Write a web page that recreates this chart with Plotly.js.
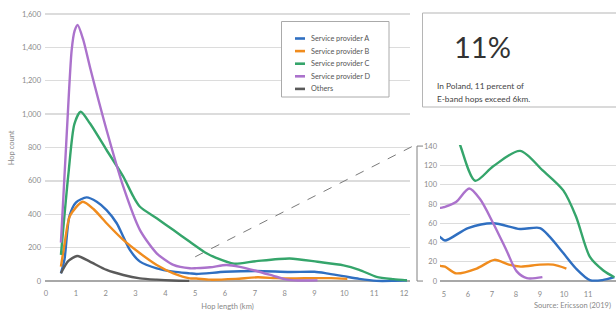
<!DOCTYPE html>
<html><head><meta charset="utf-8">
<script src="https://cdn.plot.ly/plotly-3.0.1.min.js"></script>
<style>html,body{margin:0;padding:0;background:#fff}#chart{width:616px;height:314px}</style>
</head><body><div id="chart"></div>
<script>
// ---- data ----
const seriesNames = ['Service provider A','Service provider B','Service provider C','Service provider D','Others'];
const xA = [0.5,0.62,0.78,1.0,1.36,1.7,2.03,2.37,2.59,2.81,3.15,3.71,4.27,4.82,5.04,6.0,7.05,8.17,9.0,9.4,9.97,10.5,11.08,11.6,12.1];
const yA = [46,130,385,470,501,475,425,346,265,186,116,76,56,46,42,55,60,54,55,46,29,13,1,1,4];
const xB = [0.5,0.62,0.8,1.23,1.6,2.03,2.59,3.15,3.71,4.27,4.82,5.04,5.5,6.36,7.1,7.7,8.2,9.0,9.55,10.1];
const yB = [86,220,390,475,430,346,246,166,96,46,16,15,8,13,22,17,15,17,17,13];
const xC = [0.5,0.75,0.95,1.16,1.47,2.03,2.59,2.93,3.15,3.71,4.27,4.82,5.38,5.7,6.3,7.05,8.17,9.1,9.97,10.5,11.08,11.64,12.1];
const yC = [156,640,940,1014,945,785,625,505,445,376,305,235,166,139,104,119,135,115,94,67,25,11,4];
const xD = [0.5,0.7,0.86,0.96,1.06,1.25,1.47,2.03,2.59,3.15,3.71,4.27,4.82,5.04,5.5,6.05,6.5,7.05,7.6,8.03,8.45,9.1];
const yD = [230,900,1384,1500,1534,1444,1284,905,565,305,166,96,76,77,82,96,85,60,32,10,3,4];
const xO = [0.5,0.75,1.05,1.47,2.03,2.59,3.15,3.71,4.27,4.8];
const yO = [46,120,150,116,66,36,16,8,3,1];
const xTicks = [0,1,2,3,4,5,6,7,8,9,10,11,12];
const yTicksMain = [0,200,400,600,800,1000,1200,1400,1600];
const yTicksInset = [0,20,40,60,80,100,120,140];
const xTicksInset = [5,6,7,8,9,10,11,12];
const calloutValue = '11%';
const calloutText = ['In Poland, 11 percent of','E-band hops exceed 6km.'];
const sourceText = 'Source: Ericsson (2019)';

// ---- styling / layout ----
const W = 616, H = 314;
const colors = ['#2f6fc1','#f08c1e','#35a56b','#ab72cc','#5a5a5a'];
const xs = [xA,xB,xC,xD,xO], ys = [yA,yB,yC,yD,yO];
const FONT = 'Lato, "Noto Sans", sans-serif';

const mainX = {range:[-0.034,12.2], domain:[45/W,410/W]};
const mainY = {range:[-15,1610], domain:[1-283.5/H,1-12.3/H]};
const insX = {range:[4.833,12.167], domain:[440/W,1]};
const insY = {range:[-4,141], domain:[1-284.9/H,1-145.1/H]};

function toPaperX(ax,v){return ax.domain[0]+(v-ax.range[0])/(ax.range[1]-ax.range[0])*(ax.domain[1]-ax.domain[0]);}
function toPaperY(ax,v){return ax.domain[0]+(v-ax.range[0])/(ax.range[1]-ax.range[0])*(ax.domain[1]-ax.domain[0]);}

const traces = [];
for (let i=0;i<5;i++){
  traces.push({x:xs[i],y:ys[i],type:'scatter',mode:'lines',name:seriesNames[i],
    line:{color:colors[i],width:2.4,shape:'spline',smoothing:0.7},xaxis:'x',yaxis:'y',showlegend:false,hoverinfo:'skip'});
}
for (let i=0;i<4;i++){
  traces.push({x:xs[i],y:ys[i],type:'scatter',mode:'lines',name:seriesNames[i],
    line:{color:colors[i],width:2.4,shape:'spline',smoothing:0.8},xaxis:'x2',yaxis:'y2',showlegend:false,hoverinfo:'skip'});
}

const tickFont = {family:FONT,size:7.5,color:'#8a8a8a'};
const shapes = [];
const annotations = [];

// bracket of inset
const bx = 417/W, btop = toPaperY(insY,140), bbot = toPaperY(insY,0);
shapes.push({type:'line',xref:'paper',yref:'paper',x0:bx,x1:bx,y0:bbot,y1:btop,line:{color:'#808080',width:1}});
shapes.push({type:'line',xref:'paper',yref:'paper',x0:bx,x1:423/W,y0:btop,y1:btop,line:{color:'#808080',width:1}});
shapes.push({type:'line',xref:'paper',yref:'paper',x0:bx,x1:423/W,y0:bbot,y1:bbot,line:{color:'#808080',width:1}});
// dashed zoom connector
shapes.push({type:'line',xref:'paper',yref:'paper',x0:toPaperX(mainX,5),y0:toPaperY(mainY,145),x1:413/W,y1:btop,
  line:{color:'#7a7a7a',width:1,dash:'dash'}});
// callout box
shapes.push({type:'rect',xref:'paper',yref:'paper',x0:422.5/W,x1:640/W,y0:1-107/H,y1:1-13/H,line:{color:'#b5b5b5',width:1},fillcolor:'rgba(255,255,255,0)'});
annotations.push({xref:'paper',yref:'paper',x:452/W,y:1-47/H,xanchor:'left',yanchor:'middle',showarrow:false,
  text:calloutValue,font:{family:FONT,size:29,color:'#333'}});
calloutText.forEach((t,k)=>annotations.push({xref:'paper',yref:'paper',x:435/W,y:1-(86+12.5*k)/H,xanchor:'left',yanchor:'middle',showarrow:false,
  text:t,font:{family:FONT,size:8.3,color:'#444'}}));
// custom legend
shapes.push({type:'rect',xref:'paper',yref:'paper',x0:281.5/W,x1:389/W,y0:1-97/H,y1:1-21.5/H,line:{color:'#aaaaaa',width:1},fillcolor:'#fff',layer:'above'});
seriesNames.forEach((n,k)=>{
  const yy = 1-(38.5+12.6*k)/H;
  shapes.push({type:'line',xref:'paper',yref:'paper',x0:295/W,x1:305/W,y0:yy,y1:yy,line:{color:colors[k],width:2.6},layer:'above'});
  annotations.push({xref:'paper',yref:'paper',x:309/W,y:yy,xanchor:'left',yanchor:'middle',showarrow:false,text:n,
    font:{family:FONT,size:7.3,color:'#555'}});
});
// source
annotations.push({xref:'paper',yref:'paper',x:532/W,y:1-305/H,xanchor:'left',yanchor:'middle',showarrow:false,text:sourceText,
  font:{family:FONT,size:7.5,color:'#888'}});

const layout = {
  width:W,height:H,margin:{l:0,r:0,t:0,b:0},paper_bgcolor:'#fff',plot_bgcolor:'#fff',showlegend:false,
  xaxis:{range:mainX.range,domain:mainX.domain,anchor:'y',tickvals:xTicks,showgrid:false,zeroline:false,ticks:'',
    tickfont:tickFont,ticklabelstandoff:4,title:{text:'Hop length (km)',font:{family:FONT,size:7.5,color:'#888'},standoff:6},automargin:false},
  yaxis:{range:mainY.range,domain:mainY.domain,anchor:'x',tickvals:yTicksMain,tickformat:',d',gridcolor:'#dcdcdc',gridwidth:1.3,
    zeroline:true,zerolinecolor:'#a8a8a8',zerolinewidth:1.5,ticks:'',tickfont:tickFont,ticklabelstandoff:3,
    title:{text:'Hop count',font:{family:FONT,size:7.5,color:'#888'},standoff:6},automargin:false},
  xaxis2:{range:insX.range,domain:insX.domain,anchor:'y2',tickvals:xTicksInset,showgrid:false,zeroline:false,ticks:'',
    tickfont:tickFont,ticklabelstandoff:4,automargin:false},
  yaxis2:{range:insY.range,domain:insY.domain,anchor:'x2',tickvals:yTicksInset,gridcolor:'#dcdcdc',gridwidth:1.3,
    zeroline:true,zerolinecolor:'#a8a8a8',zerolinewidth:1.5,ticks:'',tickfont:tickFont,ticklabelstandoff:2,automargin:false},
  shapes:shapes,annotations:annotations
};
Plotly.newPlot('chart',traces,layout,{staticPlot:true,displayModeBar:false});
</script></body></html>
